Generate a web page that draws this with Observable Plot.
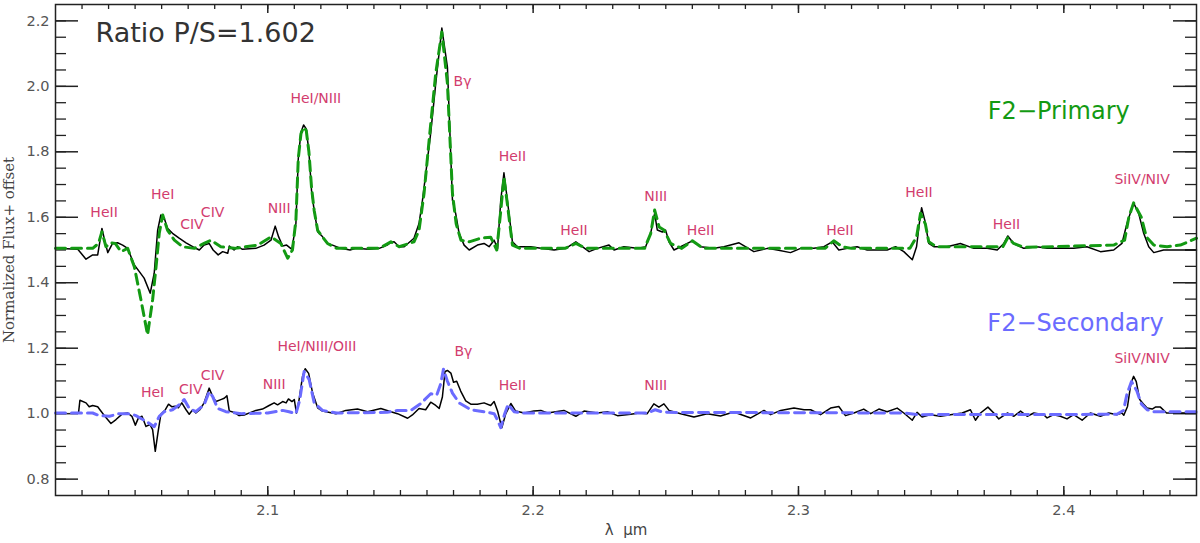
<!DOCTYPE html>
<html>
<head>
<meta charset="utf-8">
<script src="https://cdn.jsdelivr.net/npm/d3@7"></script>
<script src="https://cdn.jsdelivr.net/npm/@observablehq/plot@0.6"></script>
<style>
  html, body { margin: 0; padding: 0; background: #fff; }
</style>
</head>
<body>
<div id="chart"></div>
<script>
// ---- Data (wavelength in micron, normalized flux + offset) ----
const primaryObs = [
[2.0200,1.505],[2.0284,1.502],[2.0315,1.472],[2.0340,1.485],[2.0359,1.485],[2.0368,1.53],[2.0375,1.566],[2.0385,1.53],[2.0397,1.492],[2.0415,1.520],[2.0434,1.522],[2.0453,1.515],[2.0472,1.505],[2.0497,1.454],[2.0516,1.434],[2.0534,1.414],[2.0557,1.368],[2.0572,1.429],[2.0585,1.561],[2.0597,1.607],[2.0610,1.597],[2.0622,1.566],[2.0641,1.551],[2.0666,1.536],[2.0692,1.522],[2.0717,1.510],[2.0742,1.500],[2.0760,1.515],[2.0779,1.520],[2.0794,1.500],[2.0813,1.485],[2.0830,1.495],[2.0849,1.490],[2.0855,1.512],[2.0873,1.500],[2.0886,1.510],[2.0905,1.502],[2.0955,1.505],[2.0986,1.515],[2.1012,1.530],[2.1028,1.573],[2.1041,1.540],[2.1056,1.512],[2.1071,1.515],[2.1091,1.502],[2.1106,1.581],[2.1115,1.78],[2.1125,1.86],[2.1135,1.882],[2.1145,1.870],[2.1155,1.80],[2.1165,1.68],[2.1175,1.62],[2.1188,1.556],[2.1206,1.541],[2.1225,1.520],[2.1244,1.515],[2.1275,1.505],[2.1310,1.500],[2.1332,1.505],[2.1380,1.502],[2.1420,1.505],[2.1450,1.515],[2.1464,1.524],[2.1476,1.525],[2.1495,1.51],[2.1514,1.51],[2.1551,1.536],[2.1570,1.581],[2.1583,1.652],[2.1614,1.857],[2.1633,2.009],[2.1656,2.178],[2.1677,2.059],[2.1696,1.652],[2.1708,1.612],[2.1721,1.551],[2.1740,1.515],[2.1759,1.500],[2.1790,1.515],[2.1815,1.520],[2.1834,1.510],[2.1853,1.530],[2.1866,1.505],[2.1878,1.652],[2.1890,1.736],[2.1903,1.652],[2.1922,1.525],[2.1941,1.510],[2.1991,1.510],[2.2029,1.505],[2.2079,1.500],[2.2123,1.505],[2.2161,1.525],[2.2211,1.495],[2.2242,1.505],[2.2286,1.515],[2.2305,1.500],[2.2342,1.510],[2.2393,1.505],[2.2424,1.510],[2.2443,1.551],[2.2458,1.612],[2.2468,1.561],[2.2487,1.555],[2.2499,1.561],[2.2512,1.525],[2.2531,1.500],[2.2556,1.510],[2.2600,1.528],[2.2631,1.510],[2.2681,1.505],[2.2719,1.510],[2.2776,1.522],[2.2832,1.495],[2.2883,1.505],[2.2920,1.500],[2.2970,1.492],[2.3008,1.505],[2.3058,1.505],[2.3096,1.510],[2.3127,1.525],[2.3152,1.500],[2.3184,1.505],[2.3221,1.510],[2.3259,1.500],[2.3297,1.500],[2.3334,1.500],[2.3366,1.510],[2.3397,1.495],[2.3429,1.470],[2.3445,1.510],[2.3457,1.591],[2.3464,1.629],[2.3476,1.591],[2.3491,1.520],[2.3510,1.510],[2.3560,1.510],[2.3610,1.520],[2.3661,1.505],[2.3711,1.505],[2.3749,1.500],[2.3774,1.520],[2.3789,1.543],[2.3811,1.520],[2.3849,1.505],[2.3899,1.510],[2.3937,1.505],[2.3987,1.505],[2.4037,1.505],[2.4087,1.510],[2.4138,1.495],[2.4188,1.500],[2.4219,1.520],[2.4238,1.581],[2.4263,1.644],[2.4282,1.612],[2.4301,1.551],[2.4320,1.510],[2.4339,1.492],[2.4376,1.500],[2.4414,1.500],[2.4500,1.500]
];

const primaryModel = [
[2.0200,1.505],[2.0340,1.505],[2.0362,1.52],[2.0375,1.556],[2.0390,1.51],[2.0409,1.522],[2.0425,1.52],[2.0447,1.495],[2.0472,1.505],[2.0497,1.449],[2.0522,1.348],[2.0547,1.241],[2.0566,1.348],[2.0579,1.449],[2.0591,1.551],[2.0604,1.607],[2.0622,1.561],[2.0648,1.530],[2.0679,1.510],[2.0723,1.505],[2.0760,1.520],[2.0786,1.530],[2.0823,1.510],[2.0875,1.505],[2.0962,1.515],[2.1012,1.540],[2.1049,1.520],[2.1075,1.475],[2.1093,1.500],[2.1106,1.591],[2.1115,1.78],[2.1125,1.855],[2.1135,1.875],[2.1145,1.865],[2.1155,1.80],[2.1165,1.69],[2.1175,1.62],[2.1188,1.56],[2.1206,1.54],[2.1225,1.52],[2.1260,1.505],[2.1330,1.505],[2.1420,1.505],[2.1464,1.525],[2.1495,1.51],[2.1551,1.525],[2.1570,1.56],[2.1589,1.673],[2.1608,1.835],[2.1633,2.04],[2.1656,2.166],[2.1677,2.009],[2.1696,1.673],[2.1710,1.58],[2.1728,1.530],[2.1759,1.525],[2.1803,1.536],[2.1840,1.539],[2.1863,1.500],[2.1878,1.62],[2.1890,1.723],[2.1903,1.64],[2.1922,1.515],[2.1950,1.505],[2.2120,1.505],[2.2161,1.520],[2.2200,1.505],[2.2420,1.505],[2.2443,1.55],[2.2458,1.622],[2.2475,1.57],[2.2493,1.561],[2.2518,1.520],[2.2560,1.505],[2.2600,1.528],[2.2640,1.505],[2.3100,1.505],[2.3133,1.528],[2.3165,1.510],[2.3200,1.505],[2.3420,1.505],[2.3445,1.54],[2.3460,1.612],[2.3478,1.58],[2.3491,1.525],[2.3520,1.510],[2.3770,1.510],[2.3789,1.538],[2.3811,1.520],[2.3850,1.508],[2.4188,1.515],[2.4229,1.530],[2.4245,1.600],[2.4263,1.644],[2.4292,1.600],[2.4311,1.540],[2.4339,1.515],[2.4389,1.510],[2.4439,1.515],[2.4500,1.536]
];

const secondaryObs = [
[2.0287,1.004],[2.0292,1.041],[2.0315,1.033],[2.0327,1.021],[2.0340,1.025],[2.0359,1.021],[2.0371,1.008],[2.0390,0.988],[2.0409,0.970],[2.0428,0.982],[2.0453,1.000],[2.0472,1.002],[2.0488,0.992],[2.0501,0.965],[2.0513,0.988],[2.0526,0.992],[2.0541,0.961],[2.0556,0.967],[2.0566,0.951],[2.0576,0.885],[2.0586,0.941],[2.0597,0.998],[2.0614,1.012],[2.0626,1.029],[2.0639,1.021],[2.0651,1.023],[2.0663,1.018],[2.0676,1.033],[2.0692,1.012],[2.0704,0.998],[2.0717,1.012],[2.0729,1.002],[2.0744,1.012],[2.0760,1.033],[2.0779,1.078],[2.0792,1.053],[2.0805,1.037],[2.0823,1.043],[2.0836,1.047],[2.0846,1.055],[2.0855,1.008],[2.0873,1.004],[2.0892,0.994],[2.0911,0.996],[2.0936,1.004],[2.0955,1.010],[2.0980,1.014],[2.1005,1.025],[2.1024,1.033],[2.1037,1.027],[2.1056,1.037],[2.1069,1.033],[2.1078,1.045],[2.1091,1.037],[2.1100,1.043],[2.1108,1.002],[2.1118,1.043],[2.1131,1.114],[2.1141,1.137],[2.1154,1.123],[2.1169,1.063],[2.1188,1.018],[2.1206,1.008],[2.1257,1.000],[2.1294,1.010],[2.1338,1.014],[2.1376,1.006],[2.1426,1.016],[2.1464,1.006],[2.1489,1.000],[2.1527,0.986],[2.1545,0.996],[2.1570,1.016],[2.1595,1.012],[2.1614,1.035],[2.1633,1.025],[2.1646,1.016],[2.1658,1.051],[2.1668,1.129],[2.1677,1.132],[2.1690,1.124],[2.1700,1.096],[2.1712,1.099],[2.1727,1.069],[2.1746,1.039],[2.1765,1.029],[2.1790,1.029],[2.1815,1.033],[2.1840,1.025],[2.1853,1.037],[2.1866,1.008],[2.1882,0.957],[2.1897,1.000],[2.1916,1.031],[2.1934,1.008],[2.1966,1.002],[2.2003,1.008],[2.2029,1.010],[2.2054,1.002],[2.2116,1.010],[2.2161,0.992],[2.2192,1.008],[2.2242,1.002],[2.2280,1.006],[2.2318,0.994],[2.2368,0.998],[2.2400,1.002],[2.2430,1.000],[2.2455,1.030],[2.2474,1.020],[2.2493,1.030],[2.2512,1.010],[2.2556,1.000],[2.2606,0.990],[2.2656,1.000],[2.2706,0.993],[2.2756,1.005],[2.2820,0.987],[2.2870,1.010],[2.2895,0.997],[2.2933,1.010],[2.2983,1.017],[2.3021,1.012],[2.3046,1.012],[2.3083,0.997],[2.3121,1.017],[2.3152,1.022],[2.3177,0.994],[2.3209,1.002],[2.3246,1.014],[2.3272,1.000],[2.3303,1.014],[2.3334,1.006],[2.3372,1.017],[2.3397,1.002],[2.3429,0.980],[2.3447,1.004],[2.3466,0.990],[2.3498,0.997],[2.3535,0.992],[2.3573,0.997],[2.3617,1.002],[2.3648,1.012],[2.3667,0.980],[2.3686,1.002],[2.3714,1.020],[2.3736,1.002],[2.3755,0.984],[2.3787,1.002],[2.3812,0.992],[2.3837,1.008],[2.3862,0.992],[2.3887,1.002],[2.3924,0.997],[2.3937,0.987],[2.3962,0.997],[2.3987,0.992],[2.4012,0.984],[2.4037,0.997],[2.4069,0.980],[2.4100,1.002],[2.4138,0.992],[2.4169,1.002],[2.4201,0.997],[2.4219,1.002],[2.4226,0.995],[2.4240,1.022],[2.4253,1.093],[2.4263,1.114],[2.4273,1.098],[2.4286,1.043],[2.4299,1.030],[2.4314,1.017],[2.4333,1.014],[2.4345,1.020],[2.4364,1.020],[2.4387,1.002],[2.4500,1.002]
];

const secondaryModel = [
[2.0200,1.002],[2.0340,1.002],[2.0365,0.994],[2.0403,0.992],[2.0440,1.000],[2.0480,1.000],[2.0503,0.994],[2.0541,0.977],[2.0572,0.960],[2.0591,0.992],[2.0610,1.006],[2.0641,1.012],[2.0666,1.027],[2.0685,1.043],[2.0704,1.016],[2.0729,1.006],[2.0760,1.027],[2.0779,1.067],[2.0792,1.053],[2.0811,1.016],[2.0842,1.006],[2.0900,1.000],[2.1000,1.002],[2.1056,1.010],[2.1080,1.006],[2.1106,1.000],[2.1120,1.04],[2.1137,1.129],[2.1156,1.104],[2.1175,1.033],[2.1206,1.010],[2.1260,1.002],[2.1450,1.004],[2.1489,1.010],[2.1539,1.010],[2.1577,1.031],[2.1614,1.061],[2.1637,1.057],[2.1652,1.092],[2.1662,1.136],[2.1677,1.099],[2.1696,1.063],[2.1721,1.033],[2.1765,1.012],[2.1815,1.006],[2.1853,1.000],[2.1866,0.980],[2.1878,0.957],[2.1893,1.000],[2.1906,1.029],[2.1928,1.006],[2.1960,1.002],[2.2430,1.002],[2.2460,1.012],[2.2490,1.004],[2.3400,1.002],[2.3450,0.997],[2.4200,0.998],[2.4225,1.010],[2.4238,1.060],[2.4255,1.098],[2.4275,1.070],[2.4292,1.030],[2.4314,1.012],[2.4340,1.006],[2.4500,1.006]
];

// line identifications: [label, wavelength, flux level]
const primaryLines = [
["HeII",2.0383,1.614],["HeI",2.0604,1.668],["CIV",2.0714,1.578],["CIV",2.0792,1.614],["NIII",2.1043,1.627],["HeI/NIII",2.1181,1.962],["Bγ",2.1734,2.015],["HeII",2.1922,1.787],["HeII",2.2154,1.561],["NIII",2.2462,1.663],["HeII",2.2631,1.561],["HeII",2.3156,1.561],["HeII",2.3454,1.675],["HeII",2.3784,1.578],["SiIV/NIV",2.4295,1.716]
];
const secondaryLines = [
["HeI",2.0566,1.065],["CIV",2.0710,1.075],["CIV",2.0792,1.116],["NIII",2.1024,1.088],["HeI/NIII/OIII",2.1185,1.205],["Bγ",2.1737,1.19],["HeII",2.1922,1.085],["NIII",2.2462,1.085],["SiIV/NIV",2.4295,1.167]
];
const seriesNames = [["F2\u2212Primary",2.3981,1.924],["F2\u2212Secondary",2.4044,1.276]];
const title = "Ratio P/S=1.602";

const xMajorTicks = [2.1, 2.2, 2.3, 2.4];
const yMajorTicks = [0.8, 1.0, 1.2, 1.4, 1.6, 1.8, 2.0, 2.2];
const xMinorTicks = d3.range(203, 245).map(d => d / 100);
const yMinorTicks = d3.range(16, 45).map(d => d * 0.05);

// ---- Layout ----
const W = 1200, H = 543;
const mL = 55, mR = 4, mT = 4, mB = 48;
const iW = W - mL - mR, iH = H - mT - mB;
const green = "#139a13", blue = "#6b6bff", pink = "#d23c6e", axisCol = "#222";
const toObj = a => a.map(([x, y]) => ({x, y}));

const chart = Plot.plot({
  width: W, height: H,
  marginLeft: mL, marginRight: mR, marginTop: mT, marginBottom: mB,
  x: {domain: [2.02, 2.45], label: null},
  y: {domain: [0.75, 2.25], label: null},
  style: {fontFamily: "DejaVu Sans", fontSize: "14.5px", background: "#fff", overflow: "visible"},
  marks: [
    Plot.axisX({ticks: xMajorTicks, tickSize: 0, tickPadding: 9, tickFormat: d3.format(".1f"), fill: "#555", label: null}),
    Plot.axisY({ticks: yMajorTicks, tickSize: 0, tickPadding: 6, tickFormat: d3.format(".1f"), fill: "#555", label: null}),
    // inward ticks
    Plot.tickX(xMinorTicks, {x: d => d, insetTop: iH - 5, stroke: axisCol, strokeWidth: 1.3}),
    Plot.tickX(xMinorTicks, {x: d => d, insetBottom: iH - 5, stroke: axisCol, strokeWidth: 1.3}),
    Plot.tickX(xMajorTicks, {x: d => d, insetTop: iH - 9, stroke: axisCol, strokeWidth: 1.5}),
    Plot.tickX(xMajorTicks, {x: d => d, insetBottom: iH - 9, stroke: axisCol, strokeWidth: 1.5}),
    Plot.tickY(yMinorTicks, {y: d => d, insetRight: iW - 11, stroke: axisCol, strokeWidth: 1.3}),
    Plot.tickY(yMinorTicks, {y: d => d, insetLeft: iW - 11, stroke: axisCol, strokeWidth: 1.3}),
    Plot.tickY(yMajorTicks, {y: d => d, insetRight: iW - 23, stroke: axisCol, strokeWidth: 1.5}),
    Plot.tickY(yMajorTicks, {y: d => d, insetLeft: iW - 23, stroke: axisCol, strokeWidth: 1.5}),
    // spectra
    Plot.line(toObj(primaryObs), {x: "x", y: "y", stroke: "#000", strokeWidth: 1.5}),
    Plot.line(toObj(secondaryObs), {x: "x", y: "y", stroke: "#000", strokeWidth: 1.5}),
    Plot.line(toObj(primaryModel), {x: "x", y: "y", stroke: green, strokeWidth: 3, strokeDasharray: "10,6"}),
    Plot.line(toObj(secondaryModel), {x: "x", y: "y", stroke: blue, strokeWidth: 3, strokeDasharray: "10,6"}),
    // line identifications
    Plot.text(primaryLines, {x: d => d[1], y: d => d[2], text: d => d[0], fill: pink, fontSize: 14}),
    Plot.text(secondaryLines, {x: d => d[1], y: d => d[2], text: d => d[0], fill: pink, fontSize: 14}),
    // series names
    Plot.text(seriesNames, {x: d => d[1], y: d => d[2], text: d => d[0], fill: (d, i) => i === 0 ? green : blue, fontSize: 24}),
    // title
    Plot.text([title], {frameAnchor: "top-left", text: d => d, dx: 40, dy: 29, textAnchor: "start", lineAnchor: "middle", fontSize: 27, fill: "#333"}),
    // axis titles
    Plot.text(["\u03bb\u00a0\u00a0\u03bcm"], {frameAnchor: "bottom", text: d => d, dy: 35, lineAnchor: "middle", textAnchor: "middle", fontSize: 15, fill: "#444"}),
    Plot.text(["Normalized Flux+ offset"], {frameAnchor: "left", text: d => d, dx: -46, rotate: -90, textAnchor: "middle", lineAnchor: "middle", fontSize: 15, fill: "#444", fontFamily: "DejaVu Serif"}),
    Plot.frame({stroke: axisCol, strokeWidth: 1.5})
  ]
});
document.getElementById("chart").appendChild(chart);
</script>
</body>
</html>
